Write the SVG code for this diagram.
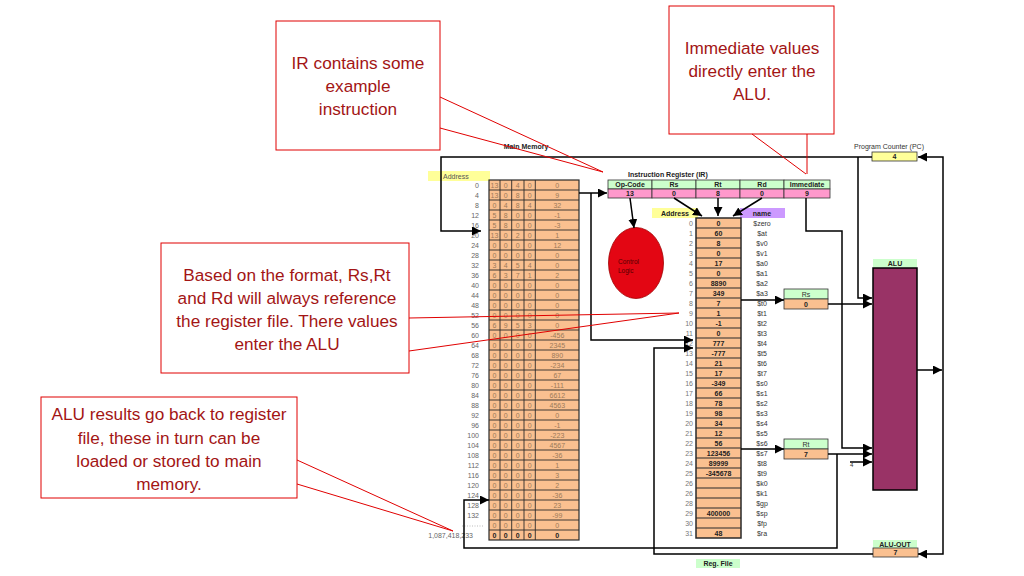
<svg xmlns="http://www.w3.org/2000/svg" width="1024" height="576" viewBox="0 0 1024 576">
<defs>
<marker id="ah" viewBox="0 0 10 10" refX="10" refY="5" markerWidth="9" markerHeight="9" markerUnits="userSpaceOnUse" orient="auto"><path d="M0,0 L10,5 L0,10 z" fill="#000"/></marker>
<style>
text{font-family:"Liberation Sans",Arial,sans-serif}
.m{font-size:7px;fill:#9a7a5a;text-anchor:middle}
.mb{font-size:7px;fill:#222;font-weight:bold;text-anchor:middle}
.ma{font-size:7px;fill:#666;text-anchor:end}
.t{font-size:7px;fill:#222;font-weight:bold;text-anchor:middle}
.n{font-size:7px;fill:#333;text-anchor:middle}
.ri{font-size:7px;fill:#777;text-anchor:end}
.lbl{font-size:7px;fill:#222;font-weight:bold}
.cell{stroke:#333;stroke-width:0.8}
.grn{fill:#ccffcc}
.org{fill:#fac090}
.pnk{fill:#ff99cc}
.con path{fill:none;stroke:#000;stroke-width:1.5}
.arr{marker-end:url(#ah)}
.co rect{fill:#fff;stroke:#e00000;stroke-width:1}
.co text{font-size:17.2px;fill:#a31515;text-anchor:middle}
.cl{stroke:#e00000;stroke-width:1;fill:none}
</style>
</defs>
<rect width="1024" height="576" fill="#fff"/>

<!-- Main memory -->
<g id="main-memory">
<text x="526" y="149" class="t">Main Memory</text>
<rect x="428" y="171" width="62" height="10" fill="#ffff99"/>
<text x="443" y="178.5" font-size="7" fill="#555">Address</text>
<rect x="489" y="180" width="90" height="360" class="org" stroke="#2a2a2a" stroke-width="1.2"/>
<path d="M500,180V540M511.7,180V540M524,180V540M535.3,180V540M489,190H579M489,200H579M489,210H579M489,220H579M489,230H579M489,240H579M489,250H579M489,260H579M489,270H579M489,280H579M489,290H579M489,300H579M489,310H579M489,320H579M489,330H579M489,340H579M489,350H579M489,360H579M489,370H579M489,380H579M489,390H579M489,400H579M489,410H579M489,420H579M489,430H579M489,440H579M489,450H579M489,460H579M489,470H579M489,480H579M489,490H579M489,500H579M489,510H579M489,520H579M489,530H579" stroke="#2a2a2a" stroke-width="0.9" fill="none"/>
<text class="ma"><tspan x="479" y="187.5">0</tspan><tspan x="479" y="197.5">4</tspan><tspan x="479" y="207.5">8</tspan><tspan x="479" y="217.5">12</tspan><tspan x="479" y="227.5">16</tspan><tspan x="479" y="237.5">20</tspan><tspan x="479" y="247.5">24</tspan><tspan x="479" y="257.5">28</tspan><tspan x="479" y="267.5">32</tspan><tspan x="479" y="277.5">36</tspan><tspan x="479" y="287.5">40</tspan><tspan x="479" y="297.5">44</tspan><tspan x="479" y="307.5">48</tspan><tspan x="479" y="317.5">52</tspan><tspan x="479" y="327.5">56</tspan><tspan x="479" y="337.5">60</tspan><tspan x="479" y="347.5">64</tspan><tspan x="479" y="357.5">68</tspan><tspan x="479" y="367.5">72</tspan><tspan x="479" y="377.5">76</tspan><tspan x="479" y="387.5">80</tspan><tspan x="479" y="397.5">84</tspan><tspan x="479" y="407.5">88</tspan><tspan x="479" y="417.5">92</tspan><tspan x="479" y="427.5">96</tspan><tspan x="479" y="437.5">100</tspan><tspan x="479" y="447.5">104</tspan><tspan x="479" y="457.5">108</tspan><tspan x="479" y="467.5">112</tspan><tspan x="479" y="477.5">116</tspan><tspan x="479" y="487.5">120</tspan><tspan x="479" y="497.5">124</tspan><tspan x="479" y="507.5">128</tspan><tspan x="479" y="517.5">132</tspan><tspan x="473" y="538">1,087,418,233</tspan></text>
<path d="M462,526H483" stroke="#aaa" stroke-width="0.8" stroke-dasharray="1,1.5"/>
<text class="m" y="187.5"><tspan x="494.5">13</tspan><tspan x="505.8">0</tspan><tspan x="517.8">4</tspan><tspan x="529.6">0</tspan><tspan x="557.3">0</tspan></text>
<text class="m" y="197.5"><tspan x="494.5">13</tspan><tspan x="505.8">0</tspan><tspan x="517.8">8</tspan><tspan x="529.6">0</tspan><tspan x="557.3">9</tspan></text>
<text class="m" y="207.5"><tspan x="494.5">0</tspan><tspan x="505.8">4</tspan><tspan x="517.8">8</tspan><tspan x="529.6">4</tspan><tspan x="557.3">32</tspan></text>
<text class="m" y="217.5"><tspan x="494.5">5</tspan><tspan x="505.8">8</tspan><tspan x="517.8">0</tspan><tspan x="529.6">0</tspan><tspan x="557.3">-1</tspan></text>
<text class="m" y="227.5"><tspan x="494.5">5</tspan><tspan x="505.8">8</tspan><tspan x="517.8">0</tspan><tspan x="529.6">0</tspan><tspan x="557.3">-3</tspan></text>
<text class="m" y="237.5"><tspan x="494.5">13</tspan><tspan x="505.8">0</tspan><tspan x="517.8">2</tspan><tspan x="529.6">0</tspan><tspan x="557.3">1</tspan></text>
<text class="m" y="247.5"><tspan x="494.5">0</tspan><tspan x="505.8">0</tspan><tspan x="517.8">0</tspan><tspan x="529.6">0</tspan><tspan x="557.3">12</tspan></text>
<text class="m" y="257.5"><tspan x="494.5">0</tspan><tspan x="505.8">0</tspan><tspan x="517.8">0</tspan><tspan x="529.6">0</tspan><tspan x="557.3">0</tspan></text>
<text class="m" y="267.5"><tspan x="494.5">3</tspan><tspan x="505.8">4</tspan><tspan x="517.8">5</tspan><tspan x="529.6">4</tspan><tspan x="557.3">0</tspan></text>
<text class="m" y="277.5"><tspan x="494.5">6</tspan><tspan x="505.8">3</tspan><tspan x="517.8">7</tspan><tspan x="529.6">1</tspan><tspan x="557.3">2</tspan></text>
<text class="m" y="287.5"><tspan x="494.5">0</tspan><tspan x="505.8">0</tspan><tspan x="517.8">0</tspan><tspan x="529.6">0</tspan><tspan x="557.3">0</tspan></text>
<text class="m" y="297.5"><tspan x="494.5">0</tspan><tspan x="505.8">0</tspan><tspan x="517.8">0</tspan><tspan x="529.6">0</tspan><tspan x="557.3">0</tspan></text>
<text class="m" y="307.5"><tspan x="494.5">0</tspan><tspan x="505.8">0</tspan><tspan x="517.8">0</tspan><tspan x="529.6">0</tspan><tspan x="557.3">0</tspan></text>
<text class="m" y="317.5"><tspan x="494.5">0</tspan><tspan x="505.8">0</tspan><tspan x="517.8">0</tspan><tspan x="529.6">0</tspan><tspan x="557.3">0</tspan></text>
<text class="m" y="327.5"><tspan x="494.5">6</tspan><tspan x="505.8">9</tspan><tspan x="517.8">5</tspan><tspan x="529.6">3</tspan><tspan x="557.3">0</tspan></text>
<text class="m" y="337.5"><tspan x="494.5">0</tspan><tspan x="505.8">0</tspan><tspan x="517.8">0</tspan><tspan x="529.6">0</tspan><tspan x="557.3">-456</tspan></text>
<text class="m" y="347.5"><tspan x="494.5">0</tspan><tspan x="505.8">0</tspan><tspan x="517.8">0</tspan><tspan x="529.6">0</tspan><tspan x="557.3">2345</tspan></text>
<text class="m" y="357.5"><tspan x="494.5">0</tspan><tspan x="505.8">0</tspan><tspan x="517.8">0</tspan><tspan x="529.6">0</tspan><tspan x="557.3">890</tspan></text>
<text class="m" y="367.5"><tspan x="494.5">0</tspan><tspan x="505.8">0</tspan><tspan x="517.8">0</tspan><tspan x="529.6">0</tspan><tspan x="557.3">-234</tspan></text>
<text class="m" y="377.5"><tspan x="494.5">0</tspan><tspan x="505.8">0</tspan><tspan x="517.8">0</tspan><tspan x="529.6">0</tspan><tspan x="557.3">67</tspan></text>
<text class="m" y="387.5"><tspan x="494.5">0</tspan><tspan x="505.8">0</tspan><tspan x="517.8">0</tspan><tspan x="529.6">0</tspan><tspan x="557.3">-111</tspan></text>
<text class="m" y="397.5"><tspan x="494.5">0</tspan><tspan x="505.8">0</tspan><tspan x="517.8">0</tspan><tspan x="529.6">0</tspan><tspan x="557.3">6612</tspan></text>
<text class="m" y="407.5"><tspan x="494.5">0</tspan><tspan x="505.8">0</tspan><tspan x="517.8">0</tspan><tspan x="529.6">0</tspan><tspan x="557.3">4563</tspan></text>
<text class="m" y="417.5"><tspan x="494.5">0</tspan><tspan x="505.8">0</tspan><tspan x="517.8">0</tspan><tspan x="529.6">0</tspan><tspan x="557.3">0</tspan></text>
<text class="m" y="427.5"><tspan x="494.5">0</tspan><tspan x="505.8">0</tspan><tspan x="517.8">0</tspan><tspan x="529.6">0</tspan><tspan x="557.3">-1</tspan></text>
<text class="m" y="437.5"><tspan x="494.5">0</tspan><tspan x="505.8">0</tspan><tspan x="517.8">0</tspan><tspan x="529.6">0</tspan><tspan x="557.3">-223</tspan></text>
<text class="m" y="447.5"><tspan x="494.5">0</tspan><tspan x="505.8">0</tspan><tspan x="517.8">0</tspan><tspan x="529.6">0</tspan><tspan x="557.3">4567</tspan></text>
<text class="m" y="457.5"><tspan x="494.5">0</tspan><tspan x="505.8">0</tspan><tspan x="517.8">0</tspan><tspan x="529.6">0</tspan><tspan x="557.3">-36</tspan></text>
<text class="m" y="467.5"><tspan x="494.5">0</tspan><tspan x="505.8">0</tspan><tspan x="517.8">0</tspan><tspan x="529.6">0</tspan><tspan x="557.3">1</tspan></text>
<text class="m" y="477.5"><tspan x="494.5">0</tspan><tspan x="505.8">0</tspan><tspan x="517.8">0</tspan><tspan x="529.6">0</tspan><tspan x="557.3">3</tspan></text>
<text class="m" y="487.5"><tspan x="494.5">0</tspan><tspan x="505.8">0</tspan><tspan x="517.8">0</tspan><tspan x="529.6">0</tspan><tspan x="557.3">2</tspan></text>
<text class="m" y="497.5"><tspan x="494.5">0</tspan><tspan x="505.8">0</tspan><tspan x="517.8">0</tspan><tspan x="529.6">0</tspan><tspan x="557.3">-36</tspan></text>
<text class="m" y="507.5"><tspan x="494.5">0</tspan><tspan x="505.8">0</tspan><tspan x="517.8">0</tspan><tspan x="529.6">0</tspan><tspan x="557.3">23</tspan></text>
<text class="m" y="517.5"><tspan x="494.5">0</tspan><tspan x="505.8">0</tspan><tspan x="517.8">0</tspan><tspan x="529.6">0</tspan><tspan x="557.3">-99</tspan></text>
<text class="m" y="527.5"><tspan x="494.5">0</tspan><tspan x="505.8">0</tspan><tspan x="517.8">0</tspan><tspan x="529.6">0</tspan><tspan x="557.3">0</tspan></text>
<text class="mb" y="537.5"><tspan x="494.5">0</tspan><tspan x="505.8">0</tspan><tspan x="517.8">0</tspan><tspan x="529.6">0</tspan><tspan x="557.3">0</tspan></text>
</g>

<!-- Instruction register -->
<g id="instruction-register">
<text x="628" y="177" class="lbl">Instruction Register (IR)</text>
<g class="cell">
<rect x="608" y="180" width="44" height="9" class="grn"/><rect x="652" y="180" width="44" height="9" class="grn"/><rect x="696" y="180" width="44" height="9" class="grn"/><rect x="740" y="180" width="44" height="9" class="grn"/><rect x="784" y="180" width="46" height="9" class="grn"/>
<rect x="608" y="189" width="44" height="9" class="pnk"/><rect x="652" y="189" width="44" height="9" class="pnk"/><rect x="696" y="189" width="44" height="9" class="pnk"/><rect x="740" y="189" width="44" height="9" class="pnk"/><rect x="784" y="189" width="46" height="9" class="pnk"/>
</g>
<text class="t" y="187"><tspan x="630">Op-Code</tspan><tspan x="674">Rs</tspan><tspan x="718">Rt</tspan><tspan x="762">Rd</tspan><tspan x="807">Immediate</tspan></text>
<text class="t" y="196"><tspan x="630">13</tspan><tspan x="674">0</tspan><tspan x="718">8</tspan><tspan x="762">0</tspan><tspan x="807">9</tspan></text>
</g>

<!-- Control logic -->
<g id="control-logic">
<ellipse cx="636" cy="263" rx="27.5" ry="35.5" fill="#e30613" stroke="#a00000" stroke-width="0.8"/>
<text x="618" y="264" font-size="6.5" fill="#500">Control</text>
<text x="618" y="273" font-size="6.5" fill="#500">Logic</text>
</g>

<!-- Register file -->
<g id="register-file">
<rect x="652" y="208" width="46" height="10" fill="#ffff99"/>
<text x="675" y="215.5" class="t">Address</text>
<rect x="740" y="208" width="45" height="10" fill="#cc99ff"/>
<text x="762" y="215.5" class="t">name</text>
<rect x="696" y="218" width="45" height="320" class="org" stroke="#2a2a2a" stroke-width="1.5"/>
<path d="M696,228H741M696,238H741M696,248H741M696,258H741M696,268H741M696,278H741M696,288H741M696,298H741M696,308H741M696,318H741M696,328H741M696,338H741M696,348H741M696,358H741M696,368H741M696,378H741M696,388H741M696,398H741M696,408H741M696,418H741M696,428H741M696,438H741M696,448H741M696,458H741M696,468H741M696,478H741M696,488H741M696,498H741M696,508H741M696,518H741M696,528H741" stroke="#2a2a2a" stroke-width="1.2" fill="none"/>
<text class="ri"><tspan x="693" y="225.5">0</tspan><tspan x="693" y="235.5">1</tspan><tspan x="693" y="245.5">2</tspan><tspan x="693" y="255.5">3</tspan><tspan x="693" y="265.5">4</tspan><tspan x="693" y="275.5">5</tspan><tspan x="693" y="285.5">6</tspan><tspan x="693" y="295.5">7</tspan><tspan x="693" y="305.5">8</tspan><tspan x="693" y="315.5">9</tspan><tspan x="693" y="325.5">10</tspan><tspan x="693" y="335.5">11</tspan><tspan x="693" y="345.5">12</tspan><tspan x="693" y="355.5">13</tspan><tspan x="693" y="365.5">14</tspan><tspan x="693" y="375.5">15</tspan><tspan x="693" y="385.5">16</tspan><tspan x="693" y="395.5">17</tspan><tspan x="693" y="405.5">18</tspan><tspan x="693" y="415.5">19</tspan><tspan x="693" y="425.5">20</tspan><tspan x="693" y="435.5">21</tspan><tspan x="693" y="445.5">22</tspan><tspan x="693" y="455.5">23</tspan><tspan x="693" y="465.5">24</tspan><tspan x="693" y="475.5">25</tspan><tspan x="693" y="485.5">26</tspan><tspan x="693" y="495.5">26</tspan><tspan x="693" y="505.5">28</tspan><tspan x="693" y="515.5">29</tspan><tspan x="693" y="525.5">30</tspan><tspan x="693" y="535.5">31</tspan></text>
<text class="t"><tspan x="718.5" y="225.5">0</tspan><tspan x="718.5" y="235.5">60</tspan><tspan x="718.5" y="245.5">8</tspan><tspan x="718.5" y="255.5">0</tspan><tspan x="718.5" y="265.5">17</tspan><tspan x="718.5" y="275.5">0</tspan><tspan x="718.5" y="285.5">8890</tspan><tspan x="718.5" y="295.5">349</tspan><tspan x="718.5" y="305.5">7</tspan><tspan x="718.5" y="315.5">1</tspan><tspan x="718.5" y="325.5">-1</tspan><tspan x="718.5" y="335.5">0</tspan><tspan x="718.5" y="345.5">777</tspan><tspan x="718.5" y="355.5">-777</tspan><tspan x="718.5" y="365.5">21</tspan><tspan x="718.5" y="375.5">17</tspan><tspan x="718.5" y="385.5">-349</tspan><tspan x="718.5" y="395.5">66</tspan><tspan x="718.5" y="405.5">78</tspan><tspan x="718.5" y="415.5">98</tspan><tspan x="718.5" y="425.5">34</tspan><tspan x="718.5" y="435.5">12</tspan><tspan x="718.5" y="445.5">56</tspan><tspan x="718.5" y="455.5">123456</tspan><tspan x="718.5" y="465.5">89999</tspan><tspan x="718.5" y="475.5">-345678</tspan><tspan x="718.5" y="515.5">400000</tspan><tspan x="718.5" y="535.5">48</tspan></text>
<text class="n"><tspan x="762" y="225.5">$zero</tspan><tspan x="762" y="235.5">$at</tspan><tspan x="762" y="245.5">$v0</tspan><tspan x="762" y="255.5">$v1</tspan><tspan x="762" y="265.5">$a0</tspan><tspan x="762" y="275.5">$a1</tspan><tspan x="762" y="285.5">$a2</tspan><tspan x="762" y="295.5">$a3</tspan><tspan x="762" y="305.5">$t0</tspan><tspan x="762" y="315.5">$t1</tspan><tspan x="762" y="325.5">$t2</tspan><tspan x="762" y="335.5">$t3</tspan><tspan x="762" y="345.5">$t4</tspan><tspan x="762" y="355.5">$t5</tspan><tspan x="762" y="365.5">$t6</tspan><tspan x="762" y="375.5">$t7</tspan><tspan x="762" y="385.5">$s0</tspan><tspan x="762" y="395.5">$s1</tspan><tspan x="762" y="405.5">$s2</tspan><tspan x="762" y="415.5">$s3</tspan><tspan x="762" y="425.5">$s4</tspan><tspan x="762" y="435.5">$s5</tspan><tspan x="762" y="445.5">$s6</tspan><tspan x="762" y="455.5">$s7</tspan><tspan x="762" y="465.5">$t8</tspan><tspan x="762" y="475.5">$t9</tspan><tspan x="762" y="485.5">$k0</tspan><tspan x="762" y="495.5">$k1</tspan><tspan x="762" y="505.5">$gp</tspan><tspan x="762" y="515.5">$sp</tspan><tspan x="762" y="525.5">$fp</tspan><tspan x="762" y="535.5">$ra</tspan></text>
<rect x="696" y="559" width="44" height="9" class="grn"/>
<text x="718" y="566" class="t">Reg. File</text>
</g>

<!-- Program counter -->
<g id="program-counter">
<text x="889" y="149" class="n">Program Counter (PC)</text>
<rect x="872" y="152" width="45" height="9" fill="#ffff99" class="cell"/>
<text x="894.5" y="159" class="t">4</text>
</g>

<!-- ALU -->
<g id="alu">
<rect x="873" y="259" width="44" height="8.5" class="grn"/>
<text x="895" y="266" class="t">ALU</text>
<rect x="873" y="268" width="44" height="222" fill="#993366" stroke="#000" stroke-width="1.5"/>
</g>

<!-- Rs / Rt latches -->
<g id="rs-latch">
<rect x="784" y="289" width="44" height="10" class="grn cell"/>
<rect x="784" y="299" width="44" height="10" class="org cell"/>
<text x="806" y="296.5" class="n" fill="#143">Rs</text>
<text x="806" y="306.5" class="t">0</text>
</g>
<g id="rt-latch">
<rect x="784" y="439" width="44" height="10" class="grn cell"/>
<rect x="784" y="449" width="44" height="10" class="org cell"/>
<text x="806" y="446.5" class="n" fill="#143">Rt</text>
<text x="806" y="456.5" class="t">7</text>
</g>

<!-- ALU-OUT -->
<g id="alu-out">
<rect x="873" y="540" width="44" height="8" class="grn"/>
<text x="895" y="546.5" class="t">ALU-OUT</text>
<rect x="873" y="548" width="45" height="9" class="org cell"/>
<text x="895.5" y="555" class="t">7</text>
</g>

<g id="const-four">
<text x="850" y="467" font-size="6" fill="#333">4</text>
</g>

<!-- Connectors -->
<g id="connectors" class="con">
<path class="arr" d="M579,193H607"/>
<path class="arr" d="M591,193V340H693"/>
<path class="arr" d="M872,157H441V231H481"/>
<path class="arr" d="M858,157V298H872"/>
<path class="arr" d="M630,198L634,228"/>
<path class="arr" d="M674,198L702,216"/>
<path class="arr" d="M718,198V216"/>
<path class="arr" d="M762,198L733,216"/>
<path class="arr" d="M806,198V231H842V448H872"/>
<path class="arr" d="M741,300H784"/>
<path class="arr" d="M828,304H872"/>
<path class="arr" d="M741,449H784"/>
<path class="arr" d="M828,454H872"/>
<path class="arr" d="M850,462H872"/>
<path class="arr" d="M917,370H942"/>
<path class="arr" d="M943,370V157H918"/>
<path class="arr" d="M943,370V554H918"/>
<path class="arr" d="M873,554H654V348H693"/>
<path class="arr" d="M837,454V548H464V500H489"/>
</g>

<!-- Callouts -->
<g id="callout-ir" class="co">
<rect x="276" y="21" width="164" height="129"/>
<text x="358" y="69">IR contains some</text>
<text x="358" y="92">example</text>
<text x="358" y="115">instruction</text>
<path class="cl" d="M440,97L603,172M440,128L603,172"/>
</g>
<g id="callout-immediate" class="co">
<rect x="669" y="6" width="165" height="128"/>
<text x="752" y="54">Immediate values</text>
<text x="752" y="77">directly enter the</text>
<text x="752" y="100">ALU.</text>
<path class="cl" d="M752,134L806,174M807,134L807,174"/>
</g>
<g id="callout-format" class="co">
<rect x="161" y="243" width="248" height="130"/>
<text x="287" y="281">Based on the format, Rs,Rt</text>
<text x="287" y="304">and Rd will always reference</text>
<text x="287" y="327">the register file. There values</text>
<text x="287" y="350">enter the ALU</text>
<path class="cl" d="M409,318L679,313M409,351L679,313"/>
</g>
<g id="callout-alu" class="co">
<rect x="41" y="397" width="256" height="101"/>
<text x="169" y="420">ALU results go back to register</text>
<text x="169" y="444">file, these in turn can be</text>
<text x="169" y="467">loaded or stored to main</text>
<text x="169" y="490">memory.</text>
<path class="cl" d="M297,460L453,531M297,484L453,531"/>
</g>
</svg>
